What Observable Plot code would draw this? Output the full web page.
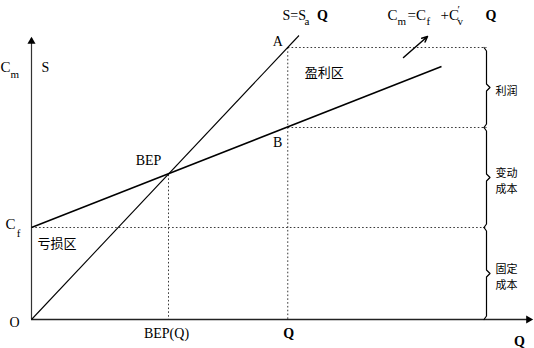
<!DOCTYPE html>
<html>
<head>
<meta charset="utf-8">
<script src="https://cdn.jsdelivr.net/npm/d3@7"></script>
<script src="https://cdn.jsdelivr.net/npm/@observablehq/plot@0.6"></script>
<style>
  html, body { margin: 0; padding: 0; background: white; }
  #chart svg { display: block; }
</style>
</head>
<body>
<div id="chart"></div>
<script>
// ---- data (units: Q on x, money on y) ----
const axisMaxQ = 20;          // end of Q axis (arrow tip)
const axisMaxV = 28.1;        // end of value axis (arrow tip)
const lineNames  = ["S", "Cm"];
const lineStartQ = [0, 0];
const lineStartV = [0, 9.2];
const lineEndQ   = [10.7, 16.4];
const lineEndV   = [28.4, 25.3];
const pointNames = ["A", "B", "BEP", "Cf"];
const pointQ     = [10.25, 10.25, 5.48, 0];
const pointV     = [27.2, 19.2, 14.5, 9.2];
const braceQ     = 18.2;
const braceLabels = ["利润", "变动\n成本", "固定\n成本"];
const braceFrom   = [19.2, 9.2, 0];
const braceTo     = [27.2, 19.2, 9.2];
const pointerFrom = [14.88, 26.2];
const pointerTo   = [15.84, 28.3];

// ---- derived tables ----
const lines = lineNames.map((n, i) => ({name: n, q1: lineStartQ[i], v1: lineStartV[i], q2: lineEndQ[i], v2: lineEndV[i]}));
const P = Object.fromEntries(pointNames.map((n, i) => [n, {q: pointQ[i], v: pointV[i]}]));
const dotted = [
  {q1: P.A.q, v1: P.A.v, q2: braceQ, v2: P.A.v},
  {q1: P.B.q, v1: P.B.v, q2: braceQ, v2: P.B.v},
  {q1: P.Cf.q, v1: P.Cf.v, q2: braceQ, v2: P.Cf.v},
  {q1: P.A.q, v1: P.A.v, q2: P.A.q, v2: 0},
  {q1: P.BEP.q, v1: P.BEP.v, q2: P.BEP.q, v2: 0}
];
const braces = [];
braceLabels.forEach((lab, i) => {
  const lo = braceFrom[i], hi = braceTo[i], mid = (lo + hi) / 2;
  const pts = [[braceQ - 0.1, hi], [braceQ, hi - 0.35], [braceQ, mid + 0.35], [braceQ + 0.14, mid],
               [braceQ, mid - 0.35], [braceQ, lo + 0.35], [braceQ - 0.1, lo]];
  pts.forEach(([q, v]) => braces.push({id: i, q, v}));
});
const braceMids = braceLabels.map((lab, i) => ({label: lab, q: braceQ, v: (braceFrom[i] + braceTo[i]) / 2}));

const serif = "'Liberation Serif', 'DejaVu Serif', serif";
const cjk = "'Noto Sans CJK SC', sans-serif";

function txt(text, q, v, dx, dy, opts = {}) {
  return Plot.text([0], {
    x: () => q, y: () => v, text: () => text, dx, dy,
    fontFamily: serif, fontSize: 14, fill: "black", textAnchor: "start", ...opts
  });
}

const chart = Plot.plot({
  width: 534, height: 348,
  marginLeft: 31, marginRight: 3, marginTop: 38, marginBottom: 29,
  x: {domain: [0, axisMaxQ], axis: null},
  y: {domain: [0, axisMaxV], axis: null},
  style: {background: "white", overflow: "visible"},
  marks: [
    // dotted guides
    Plot.link(dotted, {x1: "q1", y1: "v1", x2: "q2", y2: "v2", stroke: "#222", strokeWidth: 0.9, strokeDasharray: "1.6,2.2"}),
    // axes
    Plot.ruleX([0], {y1: 0, y2: axisMaxV, stroke: "#333", strokeWidth: 1.2}),
    Plot.ruleY([0], {x1: 0, x2: axisMaxQ, stroke: "#222", strokeWidth: 1.3}),
    Plot.dot([0], {x: () => 0, y: () => axisMaxV, symbol: "triangle", r: 3, fill: "black", stroke: "none", dy: 3}),
    Plot.dot([0], {x: () => axisMaxQ, y: () => 0, symbol: "triangle", r: 3, fill: "black", stroke: "none", rotate: 90, dx: -3}),
    // revenue and cost lines
    Plot.link(lines, {x1: "q1", y1: "v1", x2: "q2", y2: "v2", stroke: "black",
      strokeWidth: d => d.name === "S" ? 1.1 : 1.5}),
    // braces
    Plot.line(braces, {x: "q", y: "v", z: "id", stroke: "black", strokeWidth: 1.2}),
    Plot.text(braceMids, {x: "q", y: "v", text: "label", dx: 9, dy: 2, textAnchor: "start", fontFamily: cjk, fontSize: 11, lineHeight: 1.5, fill: "black"}),
    // pointer arrow
    Plot.arrow([0], {x1: () => pointerFrom[0], y1: () => pointerFrom[1], x2: () => pointerTo[0], y2: () => pointerTo[1],
      stroke: "black", strokeWidth: 1.5, headLength: 6, headAngle: 50}),
    // labels
    txt("A", P.A.q, P.A.v, -10, -6, {textAnchor: "middle"}),
    txt("B", P.B.q, P.B.v, -10, 15, {textAnchor: "middle"}),
    txt("BEP", P.BEP.q, P.BEP.v, -20, -14, {textAnchor: "middle", fontSize: 14}),
    txt("C", P.Cf.q, P.Cf.v, -21, -3, {textAnchor: "middle", fontSize: 15}),
    txt("f", P.Cf.q, P.Cf.v, -13, 6, {textAnchor: "middle", fontSize: 11}),
    txt("亏损区", P.Cf.q, P.Cf.v, 6, 16, {fontFamily: cjk, fontSize: 13}),
    txt("盈利区", P.A.q, P.A.v, 17, 25, {fontFamily: cjk, fontSize: 13}),
    txt("O", 0, 0, -17, 3, {textAnchor: "middle", fontSize: 14}),
    txt("BEP(Q)", P.BEP.q, 0, -2, 14, {textAnchor: "middle", fontSize: 14}),
    txt("Q", P.A.q, 0, 1, 14, {textAnchor: "middle", fontSize: 14, fontWeight: "bold"}),
    txt("Q", axisMaxQ, 0, -12, 22, {textAnchor: "middle", fontSize: 14, fontWeight: "bold"}),
    // y axis title
    txt("C", 0, axisMaxV, -31, 29, {fontSize: 15}),
    txt("m", 0, axisMaxV, -21, 36, {fontSize: 11}),
    txt("S", 0, axisMaxV, 14, 29, {textAnchor: "middle", fontSize: 14}),
    // equation S = Sa Q
    txt("S=S", lineEndQ[0], lineEndV[0], -16.5, -20, {fontSize: 14}),
    txt("a", lineEndQ[0], lineEndV[0], 5.5, -14, {fontSize: 11}),
    txt("Q", lineEndQ[0], lineEndV[0], 18, -20, {fontSize: 14, fontWeight: "bold"}),
    // equation Cm = Cf + C'v Q
    txt("C", lineEndQ[1], lineEndV[1], -54, -51, {fontSize: 15}),
    txt("m", lineEndQ[1], lineEndV[1], -44, -45, {fontSize: 11}),
    txt("=C", lineEndQ[1], lineEndV[1], -34, -51, {fontSize: 15}),
    txt("f", lineEndQ[1], lineEndV[1], -15, -45, {fontSize: 11}),
    txt("+C", lineEndQ[1], lineEndV[1], -1, -51, {fontSize: 15}),
    txt("′", lineEndQ[1], lineEndV[1], 16, -57, {fontSize: 11}),
    txt("v", lineEndQ[1], lineEndV[1], 16, -45, {fontSize: 11}),
    txt("Q", lineEndQ[1], lineEndV[1], 44, -51, {fontSize: 14, fontWeight: "bold"})
  ]
});
document.getElementById("chart").appendChild(chart);
</script>
</body>
</html>
